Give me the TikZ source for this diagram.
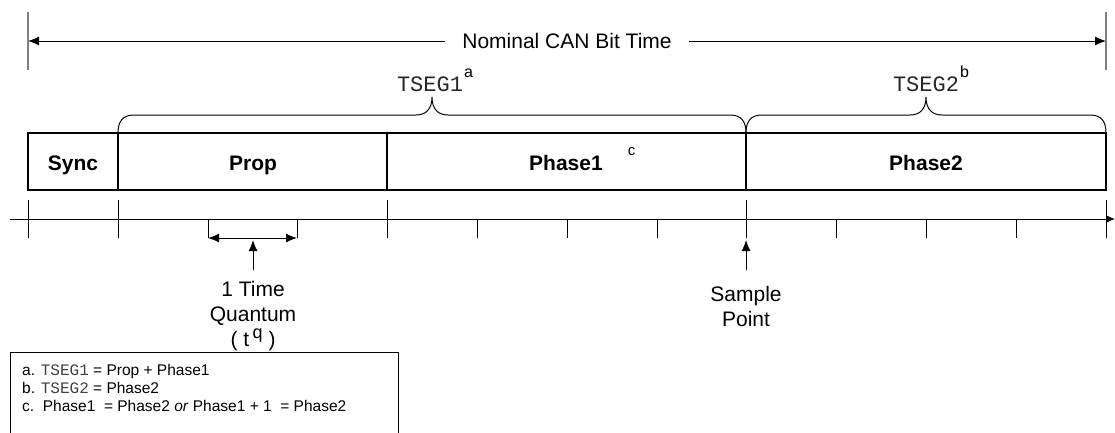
\documentclass[tikz,border=0pt]{standalone}
\usepackage{fontspec}
\setmainfont{Liberation Sans}
\newfontfamily\courier{Liberation Mono}
\usetikzlibrary{arrows.meta}
\begin{document}
\begin{tikzpicture}[x=1pt,y=-1pt,
  lbl/.style={font=\fontsize{21}{23}\selectfont, inner sep=0pt, anchor=base},
  stack/.style={font=\fontsize{21}{25}\selectfont, inner sep=0pt, align=center, anchor=north},
  seglbl/.style={font=\fontsize{21}{23}\selectfont\bfseries, inner sep=0pt, anchor=base},
  tseg/.style={font=\fontsize{22}{24}\selectfont\courier, text=black!85, inner sep=0pt, anchor=base},
  note/.style={font=\fontsize{15.5}{18}\selectfont, inner sep=0pt, anchor=base west},
  thinline/.style={line width=1pt},
  boxline/.style={line width=2pt},
  bar/.style={line width=1.5pt, gray},
  bigtip/.style={-{Latex[length=11pt,width=9pt]}},
  dbltip/.style={{Latex[length=11pt,width=9pt]}-{Latex[length=11pt,width=9pt]}},
  axtip/.style={-{Latex[length=8pt,width=7pt]}}]
\useasboundingbox (0,0) rectangle (1115,432);

% ---- nominal bit time ----
\coordinate (L0) at (28,12);  \coordinate (L1) at (28,70);
\coordinate (R0) at (1106,12); \coordinate (R1) at (1106,70);
\draw[bar] (L0) -- (L1);
\draw[bar] (R0) -- (R1);
\coordinate (nl) at (28,41); \coordinate (nr) at (1106,41);
\draw[thinline, dbltip] (nl) -- (nr);
\node[lbl, fill=white, inner xsep=17pt, inner ysep=3pt] (nom) at (567,48) {Nominal CAN Bit Time};

% ---- segment box ----
\draw[boxline] (28,133) rectangle (1106,190);
\foreach \x/\n in {118/d1, 387/d2, 746/d3} {
  \coordinate (\n t) at (\x,133); \coordinate (\n b) at (\x,190);
  \draw[boxline] (\n t) -- (\n b);
}
\node[seglbl] (sync) at (73,170) {Sync};
\node[seglbl] (prop) at (253,170) {Prop};
\node[seglbl] (ph1) at (566,170) {Phase1\rlap{\hspace{25pt}\raisebox{15pt}{\fontsize{15}{15}\selectfont\mdseries c}}};
\node[seglbl] (ph2) at (926,170) {Phase2};

% ---- braces ----
\draw[thinline] (118,133) .. controls (118,121) and (123,115) .. (134,115)
  -- (416,115) .. controls (426,115) and (432,109) .. (432,97)
  .. controls (432,109) and (438,115) .. (448,115)
  -- (730,115) .. controls (741,115) and (746,121) .. (746,133);
\draw[thinline] (746,133) .. controls (746,121) and (751,115) .. (762,115)
  -- (910,115) .. controls (920,115) and (926,109) .. (926,97)
  .. controls (926,109) and (932,115) .. (942,115)
  -- (1090,115) .. controls (1101,115) and (1106,121) .. (1106,133);
\node[tseg] (ts1) at (430,91) {TSEG1\rlap{\hspace{1pt}\raisebox{14pt}{\fontsize{16}{16}\selectfont\rmfamily\color{black}a}}};
\node[tseg] (ts2) at (926,91) {TSEG2\rlap{\hspace{1pt}\raisebox{14pt}{\fontsize{16}{16}\selectfont\rmfamily\color{black}b}}};

% ---- time axis ----
\coordinate (ax0) at (10,219); \coordinate (ax1) at (1115,219);
\draw[thinline, axtip] (ax0) -- (ax1);
\foreach \x in {28,118,387,746,1106} \draw[thinline] (\x,200) -- (\x,238);
\foreach \x in {477,567,657,836,926,1016} \draw[thinline] (\x,219) -- (\x,238);

% ---- time quantum ----
\coordinate (qa) at (208,219); \coordinate (qb) at (208,238);
\coordinate (qc) at (297,219); \coordinate (qd) at (297,238);
\draw[thinline] (qa) -- (qb);
\draw[thinline] (qc) -- (qd);
\draw[thinline, dbltip] (qb) -- (qd);
\coordinate (qup0) at (253,270); \coordinate (qup1) at (253,240);
\draw[thinline, bigtip] (qup0) -- (qup1);
\node[stack] (tq) at (253,281) {1 Time\\Quantum\\( t\,\raisebox{8pt}{\fontsize{18}{18}\selectfont q} )};

% ---- sample point ----
\coordinate (sp0) at (746,270); \coordinate (sp1) at (746,240);
\draw[thinline, bigtip] (sp0) -- (sp1);
\node[stack] (sp) at (746,286) {Sample\\Point};

% ---- footnotes ----
\draw[thinline] (10,433) -- (10,352) -- (398,352) -- (398,433);
\node[note] (fa) at (22,375) {a. {\courier\fontsize{16}{18}\selectfont\color{darkgray}TSEG1} = Prop + Phase1};
\node[note] (fb) at (22,393) {b. {\courier\fontsize{16}{18}\selectfont\color{darkgray}TSEG2} = Phase2};
\node[note] (fc) at (22,411) {c.\ \ Phase1\ \ = Phase2 \textit{or} Phase1 + 1\ \ = Phase2};
\end{tikzpicture}
\end{document}
